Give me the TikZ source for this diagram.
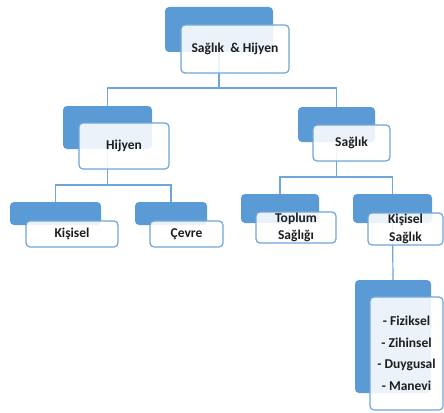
\documentclass[tikz,border=0pt]{standalone}
\usepackage{fontspec}
\setmainfont{Carlito}
\definecolor{boxblue}{HTML}{5B9BD5}
\definecolor{edgeblue}{HTML}{6FA6DA}
\definecolor{txt}{HTML}{1E1E1E}
\begin{document}
\begin{tikzpicture}[x=1pt,y=-1pt,
  back/.style={fill=boxblue,draw=none,rounded corners=4pt,inner sep=0pt},
  front/.style={fill=white,fill opacity=0.88,text opacity=1,draw=edgeblue,
    line width=1.2pt,rounded corners=4pt,inner sep=0pt,align=center,
    text=txt,font=\fontsize{13.5}{17.5}\selectfont\bfseries},
  link/.style={draw=edgeblue,line width=1.2pt}]
\useasboundingbox (0,0) rectangle (444,412);

% junction points of the tree connectors
\coordinate (j1) at (219,88);
\coordinate (j2) at (107.5,185);
\coordinate (j3) at (336.5,177);

% blue back plates
\node[back,minimum width=108,minimum height=45] (bRoot) at (219,29.5) {};
\node[back,minimum width=89,minimum height=43] (bHij) at (107.5,127.5) {};
\node[back,minimum width=77,minimum height=35] (bSag) at (336.5,124.5) {};
\node[back,minimum width=91,minimum height=23] (bKis) at (55.5,213.5) {};
\node[back,minimum width=72,minimum height=23] (bCev) at (171,213.5) {};
\node[back,minimum width=78,minimum height=29] (bTop) at (280,208.5) {};
\node[back,minimum width=79,minimum height=29] (bKS) at (392.5,208.5) {};
\node[back,minimum width=76,minimum height=113] (bList) at (393,336.5) {};

% connectors
\draw[link] (bRoot.south) -- (j1) -| (bHij.north);
\draw[link] (j1) -| (bSag.north);
\draw[link] (bHij.south) -- (j2) -| (bKis.north);
\draw[link] (j2) -| (bCev.north);
\draw[link] (bSag.south) -- (j3) -| (bTop.north);
\draw[link] (j3) -| (bKS.north);
\draw[link] (bKS.south) -- (bList.north);

% white label cards
\node[front,minimum width=108,minimum height=48] (wRoot) at (235,49) {Sağlık~ \& Hijyen};
\node[front,minimum width=90,minimum height=46] (wHij) at (124,146) {Hijyen};
\node[front,minimum width=77,minimum height=36] (wSag) at (351.5,143) {Sağlık};
\node[front,minimum width=92,minimum height=26] (wKis) at (72,234) {Kişisel};
\node[front,minimum width=73,minimum height=26] (wCev) at (186.5,234) {Çevre};
\node[front,minimum width=80,minimum height=31] (wTop) at (296,227.5) {Toplum\\Sağlığı};
\node[front,minimum width=75,minimum height=32] (wKS) at (405.5,229) {Kişisel\\Sağlık};
\node[front,minimum width=73,minimum height=113] (wList) at (406.5,353.5)
  {- Fiziksel\\[4pt]- Zihinsel\\[4pt]- Duygusal\\[4pt]- Manevi};
\end{tikzpicture}
\end{document}
